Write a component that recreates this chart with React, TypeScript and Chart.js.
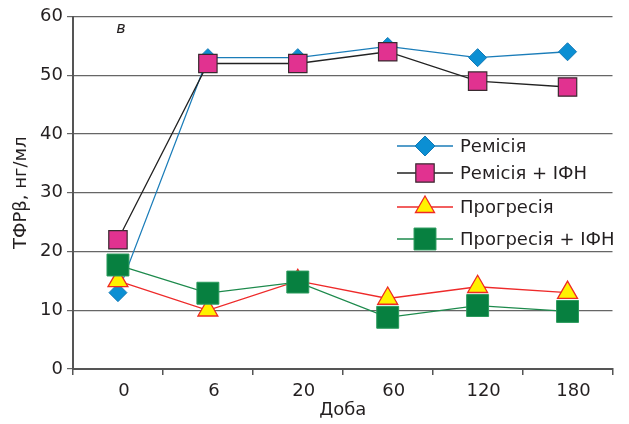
import React, { useEffect, useRef } from "react";
import { Chart, registerables } from "chart.js";
import { drawPoint } from "chart.js/helpers";

Chart.register(...registerables);

const categories = ["0", "6", "20", "60", "120", "180"];
const remission = [13, 53, 53, 54.9, 53, 54];
const remissionIfn = [22, 52, 52, 54, 49, 48];
const progression = [15, 10, 15, 12, 14, 13];
const progressionIfn = [17.7, 12.9, 14.8, 8.8, 10.8, 9.8];
const seriesLabels = ["Ремісія", "Ремісія + ІФН", "Прогресія", "Прогресія + ІФН"];
const yTitle = "ТФРβ, нг/мл";
const xTitle = "Доба";
const panelLabel = "в";

const FONT = "'DejaVu Sans', sans-serif";

const legendPlugin = {
  id: "customLegend",
  afterDraw(chart: any) {
    const ctx = chart.ctx;
    const rows = [146, 173, 207, 239];
    ctx.save();
    chart.data.datasets.forEach((ds: any, i: number) => {
      const y = rows[i];
      ctx.strokeStyle = ds.borderColor;
      ctx.lineWidth = ds.borderWidth;
      ctx.beginPath();
      ctx.moveTo(397, y);
      ctx.lineTo(453, y);
      ctx.stroke();
      ctx.fillStyle = ds.pointBackgroundColor;
      ctx.strokeStyle = ds.pointBorderColor;
      ctx.lineWidth = ds.pointBorderWidth;
      drawPoint(ctx, { pointStyle: ds.pointStyle, radius: ds.legendRadius, rotation: 0, borderWidth: ds.pointBorderWidth }, 425, y);
      ctx.fillStyle = "#231f20";
      ctx.font = `18px ${FONT}`;
      ctx.textBaseline = "middle";
      ctx.textAlign = "left";
      ctx.fillText(ds.label, 460, y + 1);
    });
    ctx.font = `italic 16px ${FONT}`;
    ctx.fillStyle = "#231f20";
    ctx.textAlign = "center";
    ctx.textBaseline = "middle";
    ctx.fillText(panelLabel, 121, 29);
    ctx.restore();
  },
};

export default function App() {
  const ref = useRef<HTMLCanvasElement>(null);
  useEffect(() => {
    document.body.style.margin = "0";
    const chart = new Chart(ref.current!, {
      type: "line",
      data: {
        labels: categories,
        datasets: [
          {
            label: seriesLabels[0],
            data: remission,
            borderColor: "#1b7db9",
            borderWidth: 1.3,
            pointStyle: "rectRot",
            pointRadius: 9,
            legendRadius: 10,
            pointBackgroundColor: "#0b8fd3",
            pointBorderColor: "#1479b5",
            pointBorderWidth: 1,
            order: 3,
          } as any,
          {
            label: seriesLabels[1],
            data: remissionIfn,
            borderColor: "#222222",
            borderWidth: 1.3,
            pointStyle: "rect",
            pointRadius: 13,
            legendRadius: 13,
            pointBackgroundColor: "#e13290",
            pointBorderColor: "#3a2a30",
            pointBorderWidth: 1.2,
            order: 1,
          } as any,
          {
            label: seriesLabels[2],
            data: progression,
            borderColor: "#ee2a2a",
            borderWidth: 1.3,
            pointStyle: "triangle",
            pointRadius: 11.5,
            legendRadius: 11,
            pointBackgroundColor: "#fff200",
            pointBorderColor: "#ee2a24",
            pointBorderWidth: 1.3,
            order: 2,
          } as any,
          {
            label: seriesLabels[3],
            data: progressionIfn,
            borderColor: "#1d8a4c",
            borderWidth: 1.3,
            pointStyle: "rect",
            pointRadius: 15.5,
            legendRadius: 15.5,
            pointBackgroundColor: "#078040",
            pointBorderColor: "#2a9a5c",
            pointBorderWidth: 1,
            order: 0,
          } as any,
        ],
      },
      options: {
        responsive: false,
        animation: false,
        layout: { padding: { top: 16, right: 11, left: 0, bottom: 0 } },
        plugins: {
          legend: { display: false },
          tooltip: { enabled: false },
        },
        scales: {
          x: {
            type: "category",
            offset: true,
            grid: {
              offset: true,
              drawOnChartArea: false,
              drawTicks: true,
              tickLength: 6,
              color: "#555",
              lineWidth: 1.5,
            },
            border: { display: true, color: "#555", width: 2 },
            ticks: {
              color: "#231f20",
              font: { family: FONT, size: 18 },
              padding: 6,
              labelOffset: 6,
              maxRotation: 0,
            },
            title: {
              display: true,
              text: xTitle,
              color: "#231f20",
              font: { family: FONT, size: 18 },
              padding: { top: 0, bottom: 3 },
            },
            afterFit(scale: any) {
              scale.height = 55;
            },
          },
          y: {
            min: 0,
            max: 60,
            ticks: {
              stepSize: 10,
              color: "#231f20",
              font: { family: FONT, size: 18 },
              padding: 4,
            },
            grid: {
              color: "#666",
              lineWidth: 1.2,
              tickLength: 6,
              drawTicks: true,
            },
            border: { display: true, color: "#555", width: 2 },
            title: {
              display: true,
              text: yTitle,
              color: "#231f20",
              font: { family: FONT, size: 18 },
              padding: { top: 11, bottom: 0 },
            },
            afterFit(scale: any) {
              scale.width = 73;
            },
          },
        },
      } as any,
      plugins: [legendPlugin],
    });
    return () => chart.destroy();
  }, []);
  return (
    <div style={{ width: 629, height: 424, background: "#fff" }}>
      <canvas ref={ref} width={629} height={424} style={{ display: "block" }} />
    </div>
  );
}
